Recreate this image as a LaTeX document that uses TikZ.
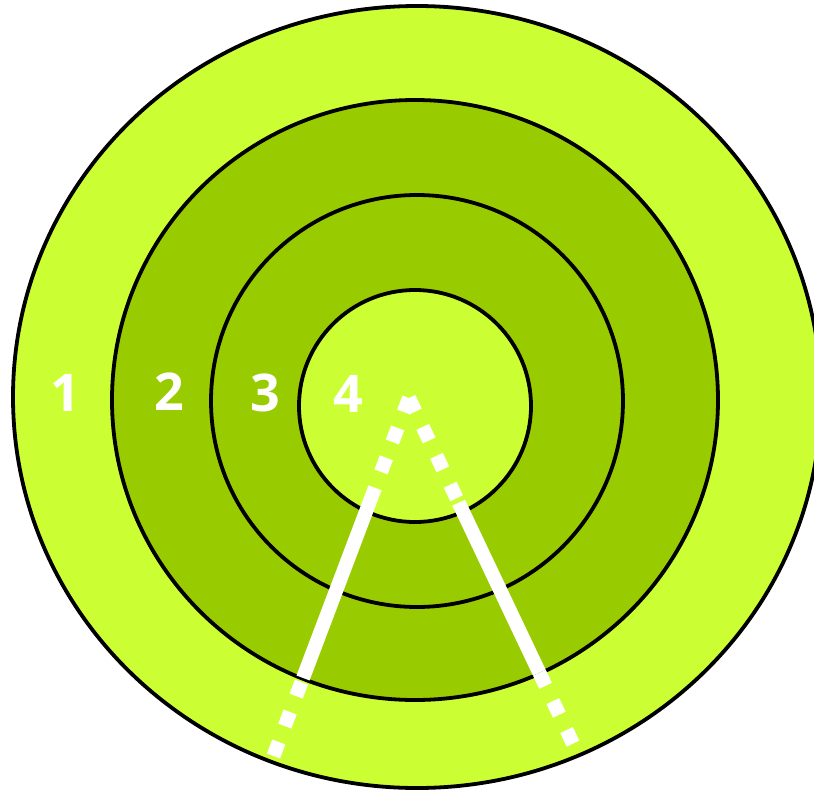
\documentclass[tikz,border=0pt]{standalone}
\usepackage{fontspec}
\setmainfont{Open Sans}
\usetikzlibrary{calc,shapes.geometric}
\definecolor{limegreen}{RGB}{204,255,51}
\definecolor{darkgreen}{RGB}{153,204,0}
\begin{document}
\begin{tikzpicture}[x=1pt,y=-1pt,
  ring/.style={draw=black,line width=3.8pt,inner sep=0pt,outer sep=0pt},
  lbl/.style={text=white,font=\fontsize{52}{52}\selectfont\bfseries,inner sep=0pt},
  beam/.style={white,line width=14pt},
  dotted beam/.style={beam,dash pattern=on 15pt off 17pt}]
\useasboundingbox (0,0) rectangle (814,790);
\clip (0,0) rectangle (814,790);
\node[ring,ellipse,fill=limegreen,minimum width=808pt,minimum height=782pt] (r1) at (417,397) {};
\node[ring,ellipse,fill=darkgreen,minimum width=606pt,minimum height=600pt] (r2) at (415,400) {};
\node[ring,circle,fill=darkgreen,minimum size=412pt] (r3) at (417,401) {};
\node[ring,circle,fill=limegreen,minimum size=232pt] (r4) at (415,406) {};
\node[lbl] (n1) at (65,393) {1};
\node[lbl] (n2) at (169,392) {2};
\node[lbl] (n3) at (265.5,393) {3};
\node[lbl] (n4) at (348,394) {4};
\coordinate (apex) at (409,398);
\coordinate (lend) at (273.5,756);
\coordinate (rend) at (573,743.6);
\coordinate (l1) at ($(apex)!0.29!(lend)$);
\coordinate (l2) at ($(apex)!0.782!(lend)$);
\coordinate (r1p) at ($(apex)!0.303!(rend)$);
\coordinate (r2p) at ($(apex)!0.795!(rend)$);
% left arm
\draw[dotted beam] (apex) -- (l1);
\draw[beam] (l1) -- (l2);
\draw[dotted beam] (lend) -- (l2);
% right arm
\draw[dotted beam] (apex) -- (r1p);
\draw[beam] (r1p) -- (r2p);
\draw[dotted beam] (rend) -- (r2p);
\end{tikzpicture}
\end{document}
